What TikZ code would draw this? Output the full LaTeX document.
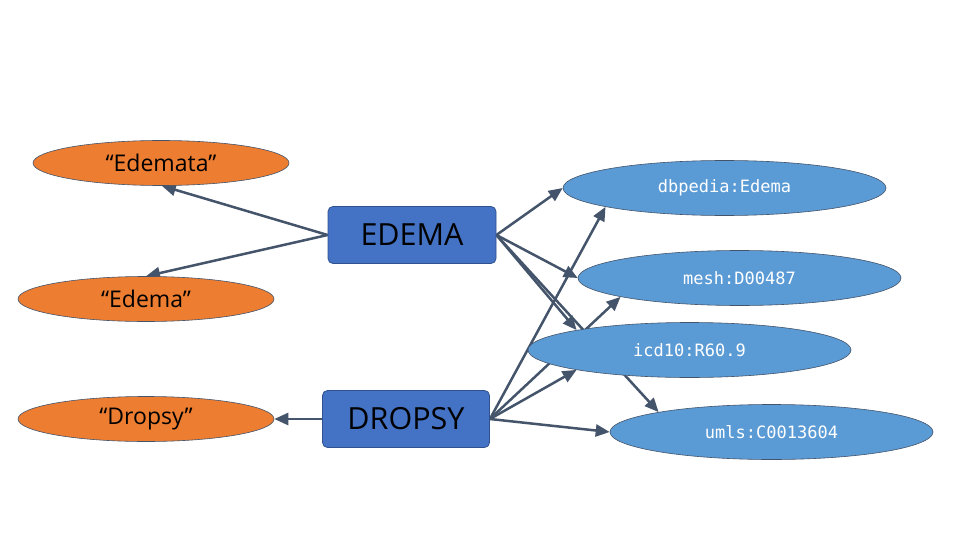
\documentclass[tikz,border=0pt]{standalone}
\usepackage{fontspec}
\setmainfont{Open Sans}
\setmonofont{DejaVu Sans Mono}
\usetikzlibrary{shapes.geometric,arrows.meta,backgrounds}
\definecolor{orangefill}{HTML}{ED7D31}
\definecolor{bluefill}{HTML}{5B9BD5}
\definecolor{boxfill}{HTML}{4472C4}
\definecolor{arrowcol}{HTML}{44546A}
\definecolor{boxborder}{HTML}{2F528F}
\begin{document}
\begin{tikzpicture}[x=1pt,y=-1pt,
  lit/.style={ellipse, fill=orangefill, draw=arrowcol, line width=0.6pt, minimum width=256pt, minimum height=45pt, inner sep=0pt, font=\fontsize{23}{26}\selectfont, text=black},
  uri/.style={ellipse, fill=bluefill, draw=arrowcol, line width=0.6pt, minimum width=323pt, minimum height=55pt, inner sep=0pt, font=\ttfamily\fontsize{17}{20}\selectfont, text=white},
  term/.style={rectangle, rounded corners=5pt, fill=boxfill, draw=boxborder, line width=0.8pt, minimum width=168pt, minimum height=57pt, inner sep=0pt, font=\fontsize{30.5}{34}\selectfont, text=black},
  link/.style={draw=arrowcol, line width=2.5pt, -{Triangle[length=14pt,width=12pt]}}]
\useasboundingbox (0,0) rectangle (960,540);
\node[lit] (edemata) at (161,163) {“Edemata”};
\node[lit] (edemalit) at (146,299) {“Edema”};
\node[lit] (dropsylit) at (146,419) {“Dropsy”};
\node[term] (edema) at (412,235) {EDEMA};
\node[term, minimum width=167pt] (dropsy) at (406,419) {DROPSY};
\node[uri] (dbp) at (724.5,188) {dbpedia:Edema};
\node[uri] (mesh) at (739.5,278) {mesh:D00487};
\node[uri] (icd) at (689.5,350) {icd10:R60.9};
\node[uri] (umls) at (771.5,432) {umls:C0013604};
\begin{scope}[on background layer]
\fill[white] (0,0) rectangle (960,540);
\draw[link] (edema.west) -- (edemata.-88);
\draw[link] (edema.west) -- (edemalit.north);
\draw[link] (dropsy.west) -- (dropsylit.east);
\draw[link] (edema.east) -- (dbp.west);
\draw[link] (edema.east) -- (mesh.west);
\draw[link] (edema.east) -- (icd.170);
\draw[link] (edema.east) -- (umls.170);
\draw[link] (dropsy.east) -- (dbp.189);
\draw[link] (dropsy.east) -- (mesh.189);
\draw[link] (dropsy.east) -- (icd.190);
\draw[link] (dropsy.east) -- (umls.west);
\end{scope}
\end{tikzpicture}
\end{document}
